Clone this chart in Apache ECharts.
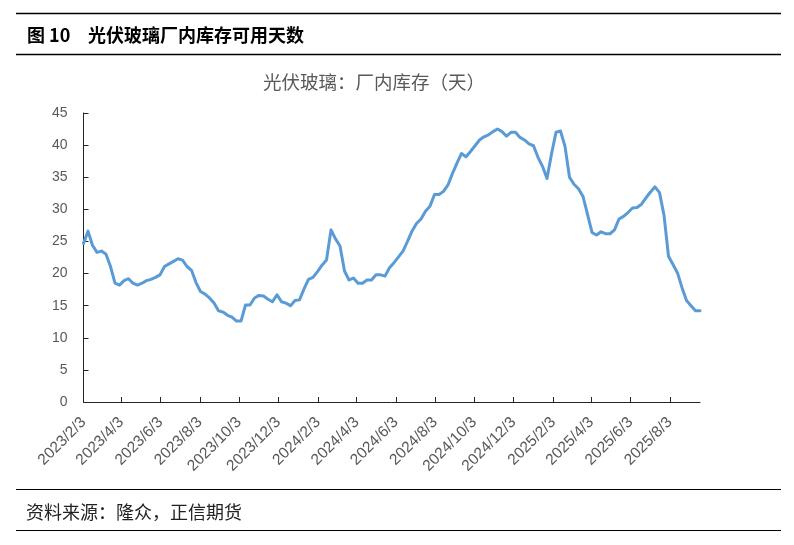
<!DOCTYPE html>
<html><head><meta charset="utf-8">
<script src="https://cdn.jsdelivr.net/npm/echarts@6/dist/echarts.min.js"></script>
<style>html,body{margin:0;padding:0;background:#fff}#c{width:794px;height:545px}</style>
</head><body><div id="c"></div>
<script>
// Weekly series starting 2023/2/3
const startDate = [2023, 2, 3];
const weekStepDays = 7;
const inventoryDays = [
 24.7,26.6,24.4,23.3,23.5,23.0,21.1,18.5,18.2,18.9,
 19.2,18.5,18.2,18.5,18.9,19.1,19.4,19.8,21.1,21.5,
 21.9,22.3,22.1,21.1,20.5,18.6,17.2,16.8,16.2,15.4,
 14.2,14.0,13.5,13.2,12.6,12.6,15.1,15.1,16.2,16.6,
 16.5,16.0,15.6,16.7,15.6,15.4,15.0,15.8,15.9,17.6,
 19.1,19.4,20.3,21.3,22.1,26.8,25.4,24.3,20.4,19.0,
 19.3,18.5,18.5,19.0,19.0,19.8,19.8,19.6,20.9,21.7,
 22.6,23.5,25.0,26.6,27.8,28.5,29.7,30.5,32.3,32.3,
 32.8,33.8,35.6,37.2,38.7,38.2,39.0,39.9,40.8,41.3,
 41.6,42.1,42.5,42.1,41.4,42.0,42.0,41.2,40.8,40.2,
 39.9,38.1,36.7,34.8,38.6,42.0,42.2,39.8,35.0,33.9,
 33.2,32.0,29.2,26.4,26.0,26.5,26.2,26.2,26.8,28.5,
 28.9,29.5,30.2,30.3,30.8,31.8,32.7,33.5,32.6,29.1,
 22.7,21.4,20.1,17.8,15.8,15.0,14.2,14.2
];
const tickLabels = ['2023/2/3','2023/4/3','2023/6/3','2023/8/3','2023/10/3','2023/12/3',
 '2024/2/3','2024/4/3','2024/6/3','2024/8/3','2024/10/3','2024/12/3',
 '2025/2/3','2025/4/3','2025/6/3','2025/8/3'];
const yTicks = [0,5,10,15,20,25,30,35,40,45];

const DAY = 86400000;
function toDay(y,m,d){return Math.round(Date.UTC(y,m-1,d)/DAY);}
function parseDay(s){const p=s.split('/').map(Number);return toDay(p[0],p[1],p[2]);}
const day0 = toDay(startDate[0], startDate[1], startDate[2]);
const dates = inventoryDays.map((_, i) => day0 + i*weekStepDays);
const seriesData = inventoryDays.map((v, i) => [dates[i], v]);
const tickDays = tickLabels.map(parseDay);
const labelMap = {};
tickLabels.forEach((s,i)=>{labelMap[tickDays[i]]=s;});

const chart = echarts.init(document.getElementById('c'), null, {renderer:'canvas'});
const font = '"Noto Sans CJK SC", "Noto Sans", sans-serif';
chart.setOption({
  animation:false,
  backgroundColor:'#fff',
  grid:{left:83.5, right:94, top:113, bottom:143, containLabel:false},
  xAxis:{
    type:'value',
    min:dates[0], max:dates[dates.length-1],
    splitLine:{show:false},
    axisLine:{lineStyle:{color:'#262626', width:1}},
    axisTick:{show:true, inside:true, length:5, customValues:tickDays, lineStyle:{color:'#262626'}},
    axisLabel:{
      customValues:tickDays, rotate:45, color:'#595959', fontSize:15.5, margin:18,
      fontFamily:'"Liberation Sans", Arial, sans-serif',
      formatter:function(v){return labelMap[Math.round(v)]||'';}
    }
  },
  yAxis:{
    type:'value', min:yTicks[0], max:yTicks[yTicks.length-1], interval:5,
    splitLine:{show:false},
    axisLine:{show:true, lineStyle:{color:'#262626', width:1}},
    axisTick:{show:true, inside:true, length:5, lineStyle:{color:'#262626'}},
    axisLabel:{color:'#595959', fontSize:14, margin:16, fontFamily:'"Liberation Sans", Arial, sans-serif'}
  },
  series:[{
    type:'line', data:seriesData, showSymbol:false, symbol:'none',
    lineStyle:{color:'#5B9BD5', width:3, join:'round', cap:'round'},
    smooth:false
  }],
  graphic:[
    {type:'line', shape:{x1:16,y1:13.5,x2:781,y2:13.5}, style:{stroke:'#000', lineWidth:1.5}},
    {type:'line', shape:{x1:16,y1:54.5,x2:781,y2:54.5}, style:{stroke:'#000', lineWidth:1.5}},
    {type:'text', x:27, y:35, style:{text:'图 10', font:'bold 18px '+font, fill:'#000', textVerticalAlign:'middle'}},
    {type:'text', x:88, y:35, style:{text:'光伏玻璃厂内库存可用天数', font:'bold 18px '+font, fill:'#000', textVerticalAlign:'middle'}},
    {type:'text', x:374, y:82, style:{text:'光伏玻璃：厂内库存（天）', font:'18.5px '+font, fill:'#595959', textAlign:'center', textVerticalAlign:'middle'}},
    {type:'line', shape:{x1:16,y1:489.5,x2:781,y2:489.5}, style:{stroke:'#000', lineWidth:1.2}},
    {type:'line', shape:{x1:16,y1:530.5,x2:781,y2:530.5}, style:{stroke:'#000', lineWidth:1.2}},
    {type:'text', x:26, y:512, style:{text:'资料来源：隆众，正信期货', font:'18px '+font, fill:'#222', textVerticalAlign:'middle'}}
  ]
});
</script>
</body></html>
